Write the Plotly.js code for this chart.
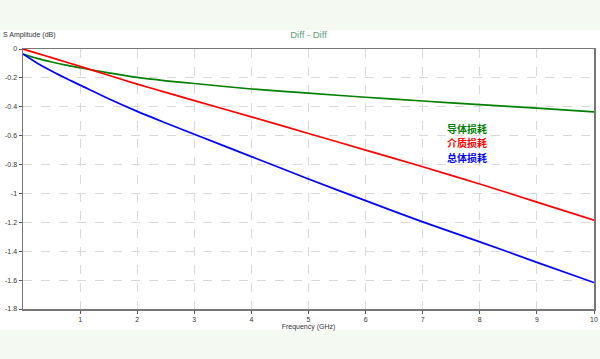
<!DOCTYPE html>
<html>
<head>
<meta charset="utf-8">
<script src="https://cdn.plot.ly/plotly-3.0.1.min.js"></script>
<style>
html,body{margin:0;padding:0;}
body{width:600px;height:359px;background:linear-gradient(to bottom,#f4faf2 0px,#f4faf2 30px,#ffffff 30px,#ffffff 330px,#f4faf2 330px,#f4faf2 359px);}
#chart{width:600px;height:359px;}
</style>
</head>
<body>
<div id="chart"></div>
<script>
// Frequency (GHz)
const freqFine = [0, 0.25, 0.5, 0.75, 1, 1.5, 2, 2.5, 3, 4, 5, 6, 7, 8, 9, 10];
// 导体损耗 (conductor loss)
const conductorLoss = [-0.035, -0.065, -0.09, -0.112, -0.13, -0.165, -0.197, -0.22, -0.239, -0.277, -0.306, -0.334, -0.36, -0.385, -0.41, -0.435];
// 介质损耗 (dielectric loss)
const dielectricLoss = [0, -0.03, -0.06, -0.09, -0.12, -0.182, -0.243, -0.30, -0.357, -0.47, -0.585, -0.70, -0.815, -0.935, -1.06, -1.185];
// 总体损耗 (total loss)
const totalLoss = [-0.035, -0.098, -0.152, -0.203, -0.25, -0.345, -0.432, -0.512, -0.59, -0.745, -0.9, -1.05, -1.197, -1.335, -1.477, -1.617];

const xTickVals = [1, 2, 3, 4, 5, 6, 7, 8, 9, 10];
const xTickText = ['1', '2', '3', '4', '5', '6', '7', '8', '9', '10'];
const yTickVals = [0, -0.2, -0.4, -0.6, -0.8, -1, -1.2, -1.4, -1.6, -1.8];
const yTickText = ['0', '-0.2', '-0.4', '-0.6', '-0.8', '-1', '-1.2', '-1.4', '-1.6', '-1.8'];

const seriesNames = ['导体损耗', '介质损耗', '总体损耗'];
const seriesColors = ['#008000', '#ff0000', '#0000ff'];
const seriesData = [conductorLoss, dielectricLoss, totalLoss];

const traces = seriesData.map((ys, i) => ({
  x: freqFine, y: ys, type: 'scatter', mode: 'lines',
  name: seriesNames[i],
  line: {color: seriesColors[i], width: 1.7, shape: 'spline', smoothing: 0.8},
  hoverinfo: 'skip'
}));

const tickFont = {family: 'Liberation Sans, Arial, sans-serif', size: 7, color: '#333333'};

const labelY = [0.6946, 0.6389, 0.5832];
const annotations = seriesNames.map((t, i) => ({
  xref: 'paper', yref: 'paper', x: 0.741, y: labelY[i],
  xanchor: 'left', yanchor: 'middle', align: 'left', showarrow: false,
  borderpad: 0,
  text: '<b>' + t + '</b>',
  font: {family: 'Noto Sans CJK SC, sans-serif', size: 10, color: seriesColors[i]}
}));
annotations.push({
  xref: 'paper', yref: 'paper', x: -0.039, y: 1.053,
  xanchor: 'left', yanchor: 'middle', showarrow: false,
  text: 'S Amplitude (dB)',
  font: tickFont
});

const layout = {
  width: 600, height: 359,
  paper_bgcolor: 'rgba(0,0,0,0)',
  plot_bgcolor: '#ffffff',
  margin: {l: 23, r: 6, t: 49, b: 50},
  showlegend: false,
  title: {
    text: 'Diff - Diff',
    x: 0.5, xref: 'paper', xanchor: 'center',
    y: 1 - 34.5 / 359, yanchor: 'middle',
    font: {family: 'Liberation Sans, Arial, sans-serif', size: 9.5, color: '#5a9e7a'}
  },
  xaxis: {
    range: [0, 10],
    tickvals: xTickVals, ticktext: xTickText,
    tickfont: tickFont,
    ticks: 'outside', ticklen: 3, tickcolor: '#555555', tickwidth: 1,
    showline: true, linecolor: '#777777', linewidth: 1.5, mirror: true,
    showgrid: true, gridcolor: '#d9d9d9', griddash: 'dash', gridwidth: 1,
    zeroline: false,
    title: {text: 'Frequency (GHz)', font: tickFont, standoff: 2}
  },
  yaxis: {
    range: [-1.8, 0],
    tickvals: yTickVals, ticktext: yTickText,
    tickfont: tickFont,
    ticks: 'outside', ticklen: 3, tickcolor: '#555555', tickwidth: 1,
    showline: true, linecolor: '#777777', linewidth: 1.5, mirror: true,
    showgrid: true, gridcolor: '#d9d9d9', griddash: 'dash', gridwidth: 1,
    zeroline: false
  },
  annotations: annotations
};

Plotly.newPlot('chart', traces, layout, {displayModeBar: false, staticPlot: true});
</script>
</body>
</html>
